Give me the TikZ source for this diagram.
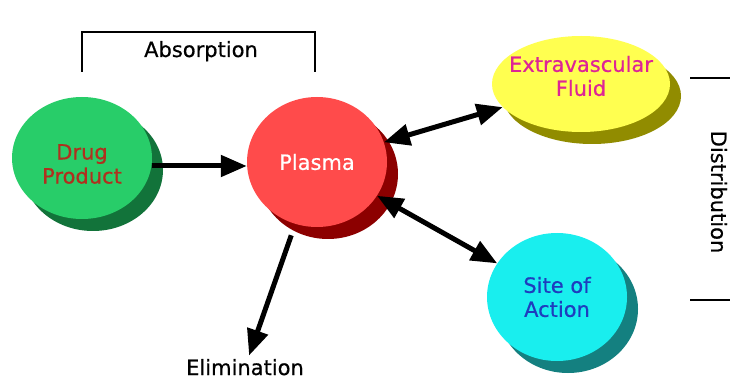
\documentclass[tikz,border=0pt]{standalone}
\usepackage{fontspec}
\setmainfont{DejaVu Sans}
\usepackage{tikz}
\usetikzlibrary{shapes.geometric, arrows.meta, shadows}

\definecolor{drugfill}{RGB}{40, 205, 105}
\definecolor{drugshade}{RGB}{18, 115, 58}
\definecolor{drugtext}{RGB}{176, 48, 30}
\definecolor{plasmafill}{RGB}{255, 75, 75}
\definecolor{plasmashade}{RGB}{140, 0, 0}
\definecolor{extrafill}{RGB}{255, 255, 80}
\definecolor{extrashade}{RGB}{145, 140, 0}
\definecolor{extratext}{RGB}{222, 36, 150}
\definecolor{sitefill}{RGB}{25, 238, 238}
\definecolor{siteshade}{RGB}{20, 128, 128}
\definecolor{sitetext}{RGB}{30, 60, 190}

\tikzset{
  pool/.style={ellipse, inner sep=0pt},
  poolshade/.style={general shadow={fill=#1, shadow xshift=11pt, shadow yshift=-12pt}},
  caption/.style={font=\fontsize{21}{24}\selectfont\addfontfeature{FakeBold=0.6}, align=center},
  flow/.style={line width=5pt, -{Triangle[length=26pt, width=21pt]}},
  twoway/.style={line width=5pt, {Triangle[length=26pt, width=21pt]}-{Triangle[length=26pt, width=21pt]}},
  bracket/.style={line width=2.5pt}
}

\begin{document}
\begin{tikzpicture}[x=1pt, y=-1pt]
  \useasboundingbox (0,0) rectangle (730,379);

  % compartments
  \node[pool, poolshade=drugshade, fill=drugfill, minimum width=140pt, minimum height=122pt,
    label={[caption, text=drugtext, yshift=-6pt]center:Drug\\Product}] (drug) at (82,158) {};
  \node[pool, poolshade=plasmashade, fill=plasmafill, minimum width=140pt, minimum height=130pt,
    label={[caption, text=white]center:Plasma}] (plasma) at (317,162) {};
  \node[pool, poolshade=extrashade, fill=extrafill, minimum width=178pt, minimum height=96pt,
    label={[caption, text=extratext, yshift=8pt]center:Extravascular\\Fluid}] (extra) at (581,84) {};
  \node[pool, poolshade=siteshade, fill=sitefill, minimum width=140pt, minimum height=128pt,
    label={[caption, text=sitetext]center:Site of\\Action}] (site) at (557,297) {};

  \node[caption, anchor=base] (elim) at (245,375) {Elimination};

  % transfers
  \draw[flow] ([yshift=-8pt]drug.east) -- ([yshift=-8pt]drug.east -| plasma.west);
  \draw[twoway] (plasma) -- (extra);
  \draw[twoway] (plasma) -- (site);
  \draw[flow, shorten <=12pt] (plasma) -- (elim);

  % process brackets
  \draw[bracket] (82,72) |- (315,32) -- (315,72);
  \node[caption, anchor=base] (absorb) at (201,57) {Absorption};
  \draw[bracket] (690,78) -- (730,78);
  \draw[bracket] (690,300) -- (730,300);
  \node[caption, rotate=-90] (distrib) at (719,192) {Distribution};
\end{tikzpicture}
\end{document}
